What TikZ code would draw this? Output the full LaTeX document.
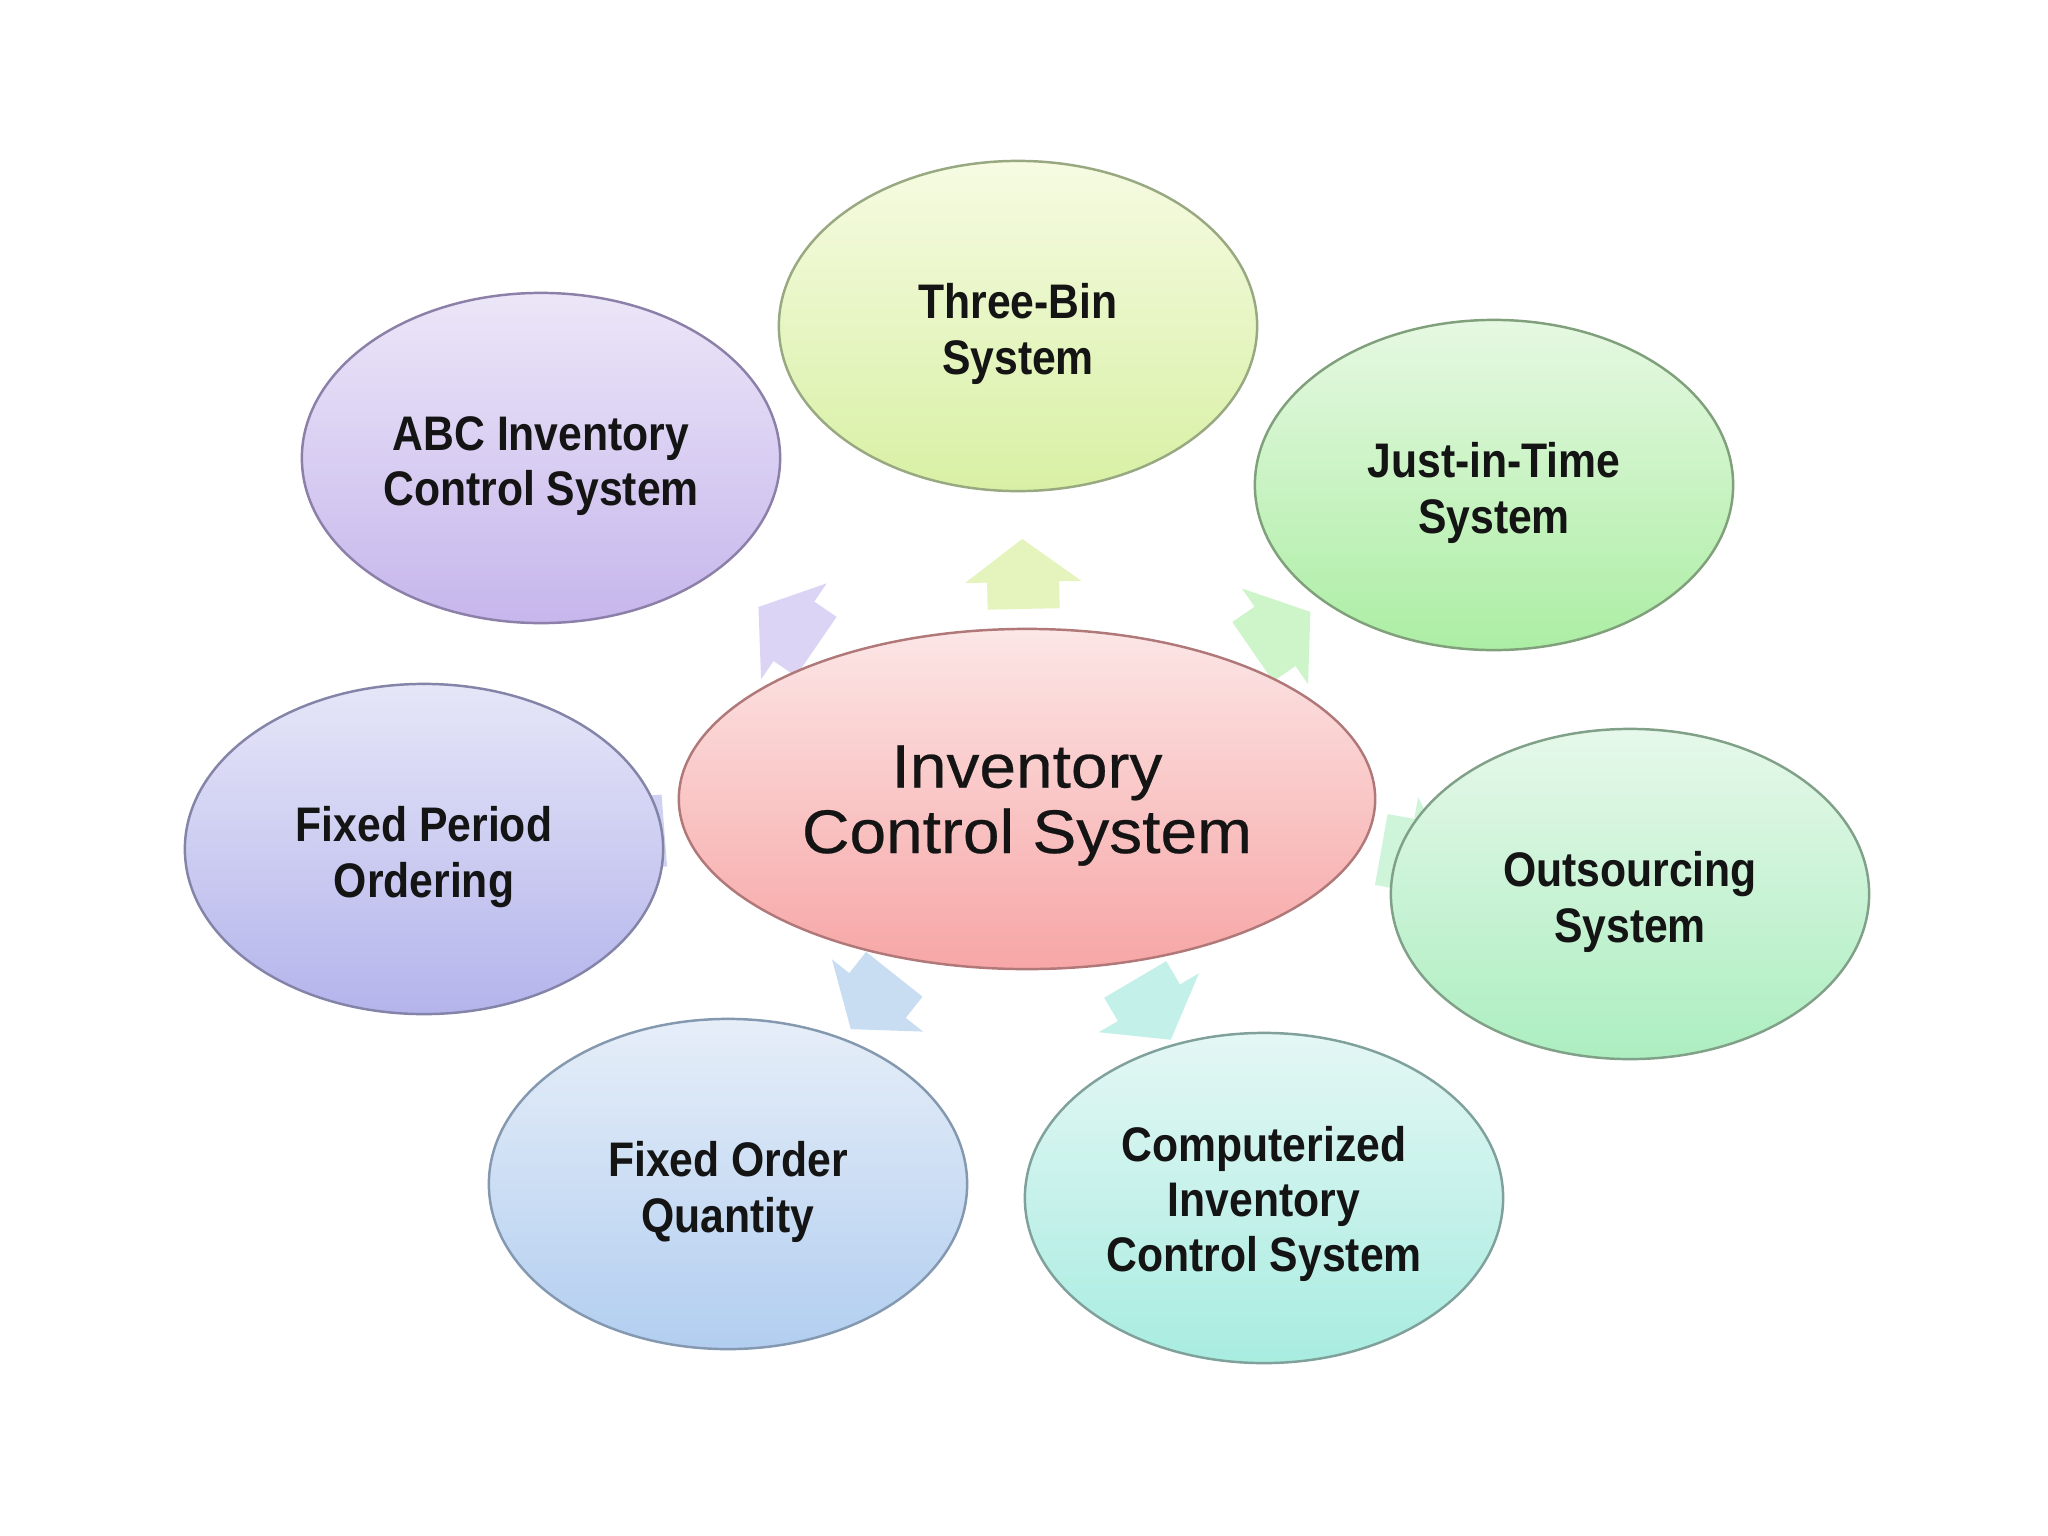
\documentclass[tikz,border=0pt]{standalone}
\usepackage{fontspec}
\setmainfont{Liberation Sans}
\newfontfamily\satfont[FakeStretch=0.88]{Liberation Sans}
\newfontfamily\cenfont[FakeStretch=1.07,FakeBold=0.4]{Liberation Sans}
\usetikzlibrary{shapes.geometric,arrows.meta,calc}
\pgfdeclarelayer{paper}
\pgfdeclarelayer{arrowlayer}
\pgfsetlayers{paper,arrowlayer,main}

\definecolor{txt}{HTML}{141414}
\definecolor{ctrT}{HTML}{FCE6E6}\definecolor{ctrB}{HTML}{F7A6A6}\definecolor{ctrD}{HTML}{B07878}
\definecolor{abcT}{HTML}{ECE6F8}\definecolor{abcB}{HTML}{C6B6EC}\definecolor{abcD}{HTML}{8C80A8}\definecolor{abcA}{HTML}{DCD4F4}
\definecolor{tbT}{HTML}{F6FBE2}\definecolor{tbB}{HTML}{D8F0A4}\definecolor{tbD}{HTML}{98A880}\definecolor{tbA}{HTML}{E4F4BC}
\definecolor{jitT}{HTML}{E6F8E2}\definecolor{jitB}{HTML}{ACEEA4}\definecolor{jitD}{HTML}{80A07C}\definecolor{jitA}{HTML}{CEF4CA}
\definecolor{outT}{HTML}{E6F8EA}\definecolor{outB}{HTML}{ACEEC0}\definecolor{outD}{HTML}{80A088}\definecolor{outA}{HTML}{CEF4DA}
\definecolor{compT}{HTML}{E4F7F5}\definecolor{compB}{HTML}{A8ECE0}\definecolor{compD}{HTML}{80A09C}\definecolor{compA}{HTML}{C4F0EA}
\definecolor{foqT}{HTML}{E6EEF8}\definecolor{foqB}{HTML}{B2CEF0}\definecolor{foqD}{HTML}{8498B0}\definecolor{foqA}{HTML}{C8DCF2}
\definecolor{fpoT}{HTML}{E6E6F8}\definecolor{fpoB}{HTML}{B4B4EC}\definecolor{fpoD}{HTML}{8484A8}\definecolor{fpoA}{HTML}{D0D0F2}

\tikzset{
  bubble/.style={ellipse, inner sep=0pt, outer sep=0pt, line width=0.7pt},
  sat/.style={bubble, minimum width=4.78cm, minimum height=3.30cm},
  hub/.style={bubble, minimum width=6.96cm, minimum height=3.40cm},
  sattext/.style={align=center, text=txt, inner sep=0pt,
    font=\satfont\bfseries\fontsize{13.8}{15.7}\selectfont},
  hubtext/.style={align=center, text=txt, inner sep=0pt,
    font=\cenfont\fontsize{17.5}{18.6}\selectfont},
  paint/.style n args={3}{top color=#1, bottom color=#2, draw=#3},
  blockarrow/.style={line width=0.72cm, draw=#1, -{Triangle[length=0.43cm,width=1.14cm]}}
}
\newcommand\radialarrow[3]{%
  \draw[blockarrow=#3]
    let \p1=(#1.center), \p2=(#2.center), \n1={atan2(\y2-\y1,\x2-\x1)} in
    ($(#1.\n1)!0.2cm!(#2.center)$) -- ($(#1.\n1)!0.9cm!(#2.center)$);}

\begin{document}
\begin{tikzpicture}[x=0.01cm, y=-0.01cm]
\useasboundingbox (0,0) rectangle (2048,1536);
\begin{pgfonlayer}{paper}
  \fill[white] (0,0) rectangle (2048,1536);
\end{pgfonlayer}

\node[hub, paint={ctrT}{ctrB}{ctrD}] (ctr) at (1027,799) {};
\node[hubtext] (ctrt) at ([yshift=-0.065cm]ctr.center) {Inventory\\Control System};

\node[sat, paint={abcT}{abcB}{abcD}] (abc) at (541,458) {};
\node[sat, paint={tbT}{tbB}{tbD}] (tb) at (1018,326) {};
\node[sat, paint={jitT}{jitB}{jitD}] (jit) at (1494,485) {};
\node[sat, paint={outT}{outB}{outD}] (out) at (1630,894) {};
\node[sat, paint={compT}{compB}{compD}] (comp) at (1264,1198) {};
\node[sat, paint={foqT}{foqB}{foqD}] (foq) at (728,1184) {};
\node[sat, paint={fpoT}{fpoB}{fpoD}] (fpo) at (424,849) {};

\node[sattext] (abct) at ([yshift=-0.08cm]abc.center) {ABC Inventory\\Control System};
\node[sattext] (tbt) at ([yshift=-0.08cm]tb.center) {Three-Bin\\System};
\node[sattext] (jitt) at ([yshift=-0.08cm]jit.center) {Just-in-Time\\System};
\node[sattext] (outt) at ([yshift=-0.08cm]out.center) {Outsourcing\\System};
\node[sattext] (compt) at ([yshift=-0.06cm]comp.center) {Computerized\\Inventory\\Control System};
\node[sattext] (foqt) at ([yshift=-0.08cm]foq.center) {Fixed Order\\Quantity};
\node[sattext] (fpot) at ([yshift=-0.08cm]fpo.center) {Fixed Period\\Ordering};

\begin{pgfonlayer}{arrowlayer}
  \radialarrow{ctr}{abc}{abcA}
  \radialarrow{ctr}{tb}{tbA}
  \radialarrow{ctr}{jit}{jitA}
  \radialarrow{ctr}{out}{outA}
  \radialarrow{ctr}{comp}{compA}
  \radialarrow{ctr}{foq}{foqA}
  \radialarrow{ctr}{fpo}{fpoA}
\end{pgfonlayer}
\end{tikzpicture}
\end{document}
